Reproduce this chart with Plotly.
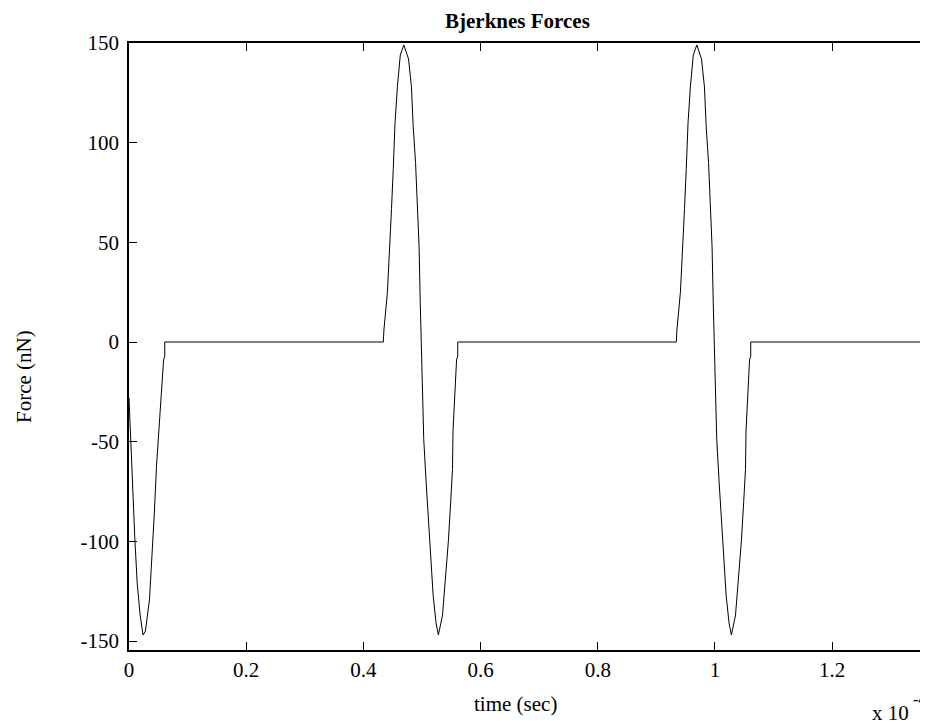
import plotly.graph_objects as go

# time in units of 1e-4 s, force in nN
time_e4 = [
    0.000, 0.003, 0.007, 0.010, 0.014, 0.019, 0.024, 0.028, 0.035, 0.039,
    0.043, 0.047, 0.052, 0.056, 0.059, 0.061, 0.061,
    0.434, 0.435, 0.441, 0.445, 0.448, 0.451, 0.454, 0.458, 0.463, 0.469,
    0.477, 0.482, 0.485, 0.489, 0.492, 0.495, 0.497, 0.499, 0.501, 0.503,
    0.507, 0.511, 0.515, 0.519, 0.524, 0.528, 0.535, 0.541, 0.545, 0.549,
    0.552, 0.553, 0.556, 0.559, 0.561, 0.561,
    0.934, 0.935, 0.941, 0.945, 0.948, 0.951, 0.954, 0.958, 0.963, 0.969,
    0.977, 0.982, 0.985, 0.989, 0.992, 0.995, 0.997, 0.999, 1.001, 1.003,
    1.007, 1.011, 1.015, 1.019, 1.024, 1.028, 1.035, 1.041, 1.045, 1.049,
    1.052, 1.053, 1.056, 1.059, 1.061, 1.061,
    1.400,
]
force_nN = [
    -28, -50, -75, -99, -121, -137, -147, -145, -129, -109,
    -87, -62, -40, -17, -9, -7, 0,
    0, 6, 25, 46, 67, 87, 110, 128, 144, 149,
    142, 128, 108, 90, 70, 48, 20, -3, -24, -49,
    -70, -90, -109, -127, -141, -147, -137, -117, -100, -80,
    -64, -44, -24, -9, -7, 0,
    0, 6, 25, 46, 67, 87, 110, 128, 144, 149,
    142, 128, 108, 90, 70, 48, 20, -3, -24, -49,
    -70, -90, -109, -127, -141, -147, -137, -117, -100, -80,
    -64, -44, -24, -9, -7, 0,
    0,
]

x_ticks = [0, 0.2, 0.4, 0.6, 0.8, 1.0, 1.2]
x_tick_labels = ["0", "0.2", "0.4", "0.6", "0.8", "1", "1.2"]
y_ticks = [-150, -100, -50, 0, 50, 100, 150]
y_tick_labels = ["-150", "-100", "-50", "0", "50", "100", "150"]

title_text = "Bjerknes Forces"
x_label = "time (sec)"
y_label = "Force (nN)"
x_multiplier_base = "x 10"
x_multiplier_exp = "-4"

FONT = "Liberation Serif, Times New Roman, serif"

# the page body adds an 8px offset; plot area in window coords: x 129..928, y 43..650
OFF = 8
L, T, B = 129 - OFF, 43 - OFF, 75
W, H = 928 - OFF, 725 - OFF
PW, PH = W - L, H - T - B
TICKLEN = 8


def px(xw):
    return (xw - OFF - L) / PW


def py(yw):
    return (H - B - (yw - OFF)) / PH


fig = go.Figure()
fig.add_trace(go.Scatter(
    x=time_e4, y=force_nN, mode="lines",
    line=dict(color="black", width=1),
    showlegend=False, hoverinfo="skip",
))

# inward ticks on the (off-screen) right axis, at the y tick values
right_ticks = [
    dict(type="line", xref="paper", yref="y",
         x0=1 - TICKLEN / PW, x1=1, y0=v, y1=v,
         line=dict(color="black", width=1))
    for v in y_ticks
]

fig.update_layout(
    width=W, height=H,
    margin=dict(l=L, r=0, t=T, b=B),
    paper_bgcolor="white", plot_bgcolor="white",
    font=dict(family=FONT, size=21, color="black"),
    xaxis=dict(
        range=[0, 1.3635], tickvals=x_ticks, ticktext=x_tick_labels,
        ticks="inside", ticklen=TICKLEN, tickwidth=1, tickcolor="black",
        showline=True, linecolor="black", linewidth=1.5, mirror="ticks",
        showgrid=False, zeroline=False, ticklabelstandoff=0,
        tickfont=dict(family=FONT, size=21),
    ),
    yaxis=dict(
        range=[-154.5, 150], tickvals=y_ticks, ticktext=y_tick_labels,
        ticks="inside", ticklen=TICKLEN, tickwidth=1, tickcolor="black",
        showline=True, linecolor="black", linewidth=1.5, mirror=False,
        showgrid=False, zeroline=False, ticklabelstandoff=4,
        tickfont=dict(family=FONT, size=21),
    ),
    shapes=right_ticks,
    annotations=[
        dict(text="<b>" + title_text + "</b>", xref="paper", yref="paper",
             x=px(517), y=py(21), showarrow=False,
             xanchor="center", yanchor="middle",
             font=dict(family=FONT, size=21)),
        dict(text=x_label, xref="paper", yref="paper",
             x=px(515), y=py(704), showarrow=False,
             xanchor="center", yanchor="middle",
             font=dict(family=FONT, size=21)),
        dict(text=y_label, xref="paper", yref="paper",
             x=px(24), y=py(377), showarrow=False,
             textangle=-90, xanchor="center", yanchor="middle",
             font=dict(family=FONT, size=21)),
        dict(text=x_multiplier_base, xref="paper", yref="paper",
             x=px(911), y=py(713), showarrow=False,
             xanchor="right", yanchor="middle",
             font=dict(family=FONT, size=21)),
        dict(text=x_multiplier_exp, xref="paper", yref="paper",
             x=px(927), y=py(699), showarrow=False,
             xanchor="right", yanchor="middle", borderpad=0,
             font=dict(family=FONT, size=16)),
    ],
)

fig.write_html("out.html")
